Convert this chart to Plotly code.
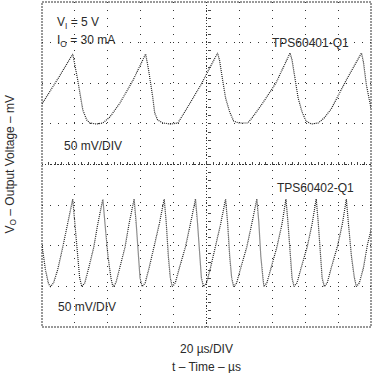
import plotly.graph_objects as go

# ---- data (time in µs, voltage in mV) ----
t_q1 = [0, 4.6, 10.7, 18.7, 19.9, 21.7, 24.8, 27.2, 29.1, 33.3, 37.0, 41.3, 47.4, 55.4,
        63.0, 64.8, 67.3, 68.5, 70.3, 73.4, 78.3, 82.6, 87.5, 96.5,
        106.7, 107.9, 109.8, 111.6, 114.1, 116.5, 119.6, 125.1, 128.1, 134.2, 142.2,
        150.8, 152.0, 153.8, 155.7, 158.1, 160.5, 163.6, 167.9, 171.5, 175.8, 185.0,
        194.2, 195.4, 197.2, 200]
v_q1 = [74.5, 89.2, 108.9, 136, 124.9, 104, 67.1, 54.8, 51.1, 49.8, 51.1, 58.5, 75.7, 104,
        136, 116.3, 83.1, 63.4, 54.8, 51.1, 49.8, 51.1, 67.1, 97.8,
        137.2, 128.6, 104, 81.8, 64.6, 53.5, 51.1, 51.1, 58.5, 75.7, 100.3,
        137.2, 128.6, 104, 81.8, 64.6, 53.5, 49.8, 51.1, 57.2, 68.3, 104,
        137.2, 126.2, 97.8, 69.5]

t_q2 = [0, 2.1, 4.0, 5.2, 7.0, 9.5, 12.5, 15.6, 18.7,
        19.9, 21.7, 22.9, 24.2, 26.0, 28.4, 31.5, 33.9, 37.0,
        38.2, 40.1, 41.9, 43.1, 44.9, 47.4, 50.5, 52.9, 56.0,
        57.2, 58.4, 59.6, 60.9, 62.7, 65.1, 68.2, 71.3, 74.3,
        75.5, 76.8, 78.0, 79.2, 81.0, 83.5, 87.2, 90.2, 93.3,
        94.5, 95.7, 96.9, 98.2, 100.0, 102.4, 105.5, 108.6, 111.6,
        112.8, 114.1, 115.3, 116.5, 118.3, 120.8, 124.5, 127.5, 130.6,
        131.8, 133.0, 134.3, 134.9, 136.7, 139.1, 142.8, 145.9, 148.3,
        149.5, 150.8, 152.0, 153.2, 155.0, 157.5, 161.2, 164.2, 166.7,
        167.9, 169.1, 170.3, 171.6, 173.4, 175.8, 179.5, 182.6, 185.0,
        186.2, 188.1, 189.9, 191.1, 192.9, 195.4, 197.8, 200]
v_q2 = [-99.1, -129.8, -147, -150.3, -145.8, -129.8, -102.8, -73.2, -42.5,
        -70.8, -112.6, -139.7, -150.3, -145.8, -127.4, -101.5, -73.2, -42.5,
        -70.8, -112.6, -139.7, -150.3, -145.8, -127.4, -101.5, -73.2, -42.5,
        -70.8, -112.6, -139.7, -150.3, -145.8, -127.4, -101.5, -73.2, -42.5,
        -70.8, -112.6, -139.7, -150.3, -145.8, -127.4, -101.5, -73.2, -42.5,
        -70.8, -112.6, -139.7, -150.3, -145.8, -127.4, -101.5, -73.2, -42.5,
        -70.8, -112.6, -139.7, -150.3, -145.8, -127.4, -101.5, -73.2, -42.5,
        -70.8, -112.6, -139.7, -150.3, -145.8, -127.4, -101.5, -73.2, -42.5,
        -70.8, -112.6, -139.7, -150.3, -145.8, -127.4, -101.5, -73.2, -42.5,
        -70.8, -112.6, -139.7, -150.3, -145.8, -127.4, -101.5, -73.2, -42.5,
        -70.8, -112.6, -139.7, -150.3, -145.8, -127.4, -99.1, -80.6]

x_range = [0, 200]      # 10 div x 20 µs
y_range = [-200, 200]   # 8 div x 50 mV

FONT = "Liberation Sans, Arial, sans-serif"
INK = "#2a2a2a"

fig = go.Figure()
fig.add_trace(go.Scatter(x=t_q1, y=v_q1, mode="lines", name="TPS60401-Q1",
                         line=dict(color="#1e1e1e", width=1.2, dash="1px,1px")))
fig.add_trace(go.Scatter(x=t_q2, y=v_q2, mode="lines", name="TPS60402-Q1",
                         line=dict(color="#1e1e1e", width=1.2, dash="1px,1px")))

# centre cross-hair ticks via overlay axes
fig.add_trace(go.Scatter(x=[None], y=[None], xaxis="x2", yaxis="y2", showlegend=False))

fig.update_layout(
    width=375, height=373,
    margin=dict(l=42, r=4, t=2, b=46),
    paper_bgcolor="white", plot_bgcolor="white",
    showlegend=False,
    font=dict(family=FONT, size=12, color=INK),
    xaxis=dict(range=x_range, dtick=20, tick0=0, showticklabels=False, ticks="",
               showgrid=True, gridcolor="#333", gridwidth=1, griddash="1px,7px",
               zeroline=False, showline=False, fixedrange=True),
    yaxis=dict(range=y_range, dtick=50, tick0=0, showticklabels=False, ticks="",
               showgrid=True, gridcolor="#333", gridwidth=1, griddash="1px,7px",
               zeroline=False, showline=False, fixedrange=True),
    xaxis2=dict(range=x_range, overlaying="x", anchor="free", position=0.5,
                dtick=4, tick0=0, ticks="inside", ticklen=3, tickcolor="#444",
                showticklabels=False, showgrid=False, zeroline=False, showline=False,
                fixedrange=True),
    yaxis2=dict(range=y_range, overlaying="y", anchor="free", position=0.5,
                dtick=10, tick0=0, ticks="inside", ticklen=3, tickcolor="#444",
                showticklabels=False, showgrid=False, zeroline=False, showline=False,
                fixedrange=True),
)

# centre lines and scope frame
fig.add_shape(type="line", xref="paper", yref="y", x0=0, x1=1, y0=0, y1=0,
              line=dict(color="#333", width=1, dash="1px,2px"), layer="below")
fig.add_shape(type="line", xref="x", yref="paper", x0=100, x1=100, y0=0, y1=1,
              line=dict(color="#333", width=1, dash="1px,2px"), layer="below")
fig.add_shape(type="rect", xref="paper", yref="paper", x0=0, x1=1, y0=0, y1=1,
              line=dict(color="#333", width=1, dash="2px,1px"), layer="above")

def note(text, x, y, **kw):
    fig.add_annotation(text=text, x=x, y=y, xref="x", yref="y", showarrow=False,
                       xanchor="left", yanchor="middle",
                       font=dict(family=FONT, size=12, color=INK), **kw)

note("V<sub>I</sub> = 5 V", 7.6, 174)
note("I<sub>O</sub> = 30 mA", 7.6, 152)
note("TPS60401-Q1", 138.4, 149.5)
note("50 mV/DIV", 12.2, 22.8)
note("TPS60402-Q1", 141.4, -28.9)
note("50 mV/DIV", 8.5, -175.4)

fig.add_annotation(text="20 µs/DIV", xref="paper", yref="paper", x=0.5, y=0,
                   xanchor="center", yanchor="top", yshift=-13, showarrow=False,
                   font=dict(family=FONT, size=12, color=INK))
fig.add_annotation(text="t – Time – µs", xref="paper", yref="paper", x=0.5, y=0,
                   xanchor="center", yanchor="top", yshift=-31, showarrow=False,
                   font=dict(family=FONT, size=12, color=INK))
fig.add_annotation(text="V<sub>O</sub> – Output Voltage – mV", xref="paper", yref="paper",
                   x=0, y=0.5, xanchor="center", yanchor="middle", xshift=-32,
                   textangle=-90, showarrow=False,
                   font=dict(family=FONT, size=12, color=INK))

fig.write_html("out.html",
               config={"displayModeBar": False, "staticPlot": True},
               post_script="document.body.style.margin='0';document.body.style.padding='0';")
